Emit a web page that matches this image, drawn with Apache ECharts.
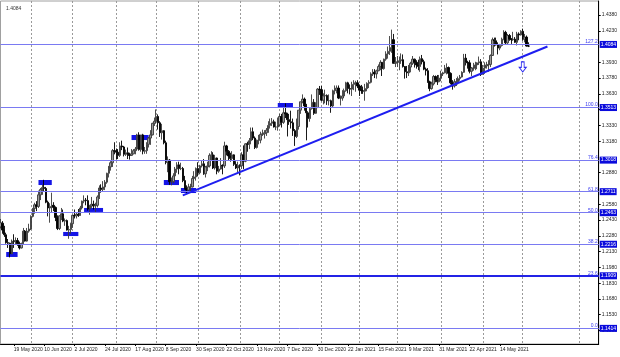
<!DOCTYPE html>
<html><head><meta charset="utf-8">
<script src="https://cdn.jsdelivr.net/npm/echarts@6/dist/echarts.min.js"></script>
<style>html,body{margin:0;padding:0;background:#fff}#c{width:620px;height:357px}</style>
</head><body><div id="c"></div>
<script>
// ---- data ----
const startDate = '2020-05-08';
const holidays = ['2020-12-25', '2021-01-01'];
const slotCount = 316;
// daily candles: [open, high, low, close]
const ohlc = [
[1.2365,1.2440,1.2350,1.2405],[1.2400,1.2420,1.2300,1.2335],[1.2335,1.2375,1.2270,1.2290],[1.2290,1.2310,1.2205,1.2215],[1.2215,1.2250,1.2165,1.2210],
[1.2210,1.2215,1.2075,1.2110],[1.2110,1.2245,1.2105,1.2230],[1.2230,1.2295,1.2165,1.2225],[1.2225,1.2265,1.2200,1.2235],[1.2235,1.2260,1.2185,1.2205],
[1.2205,1.2225,1.2150,1.2165],[1.2165,1.2215,1.2160,1.2205],[1.2205,1.2355,1.2200,1.2325],[1.2325,1.2335,1.2225,1.2230],[1.2230,1.2355,1.2225,1.2325],
[1.2325,1.2395,1.2310,1.2345],[1.2345,1.2475,1.2335,1.2465],[1.2465,1.2545,1.2455,1.2540],[1.2540,1.2595,1.2490,1.2575],[1.2575,1.2610,1.2515,1.2560],
[1.2560,1.2710,1.2545,1.2670],[1.2670,1.2735,1.2620,1.2720],[1.2720,1.2765,1.2670,1.2740],[1.2740,1.2813,1.2705,1.2730],[1.2730,1.2745,1.2590,1.2600],
[1.2600,1.2615,1.2465,1.2545],[1.2545,1.2590,1.2405,1.2560],[1.2560,1.2690,1.2500,1.2570],[1.2570,1.2600,1.2515,1.2550],[1.2550,1.2560,1.2420,1.2455],
[1.2455,1.2475,1.2335,1.2350],[1.2350,1.2475,1.2335,1.2470],[1.2470,1.2545,1.2430,1.2490],[1.2490,1.2530,1.2410,1.2420],[1.2420,1.2445,1.2375,1.2425],
[1.2425,1.2435,1.2330,1.2335],[1.2335,1.2375,1.2252,1.2340],[1.2340,1.2405,1.2300,1.2395],[1.2395,1.2480,1.2355,1.2475],[1.2475,1.2530,1.2445,1.2470],
[1.2470,1.2500,1.2445,1.2485],[1.2485,1.2535,1.2460,1.2475],[1.2475,1.2565,1.2470,1.2545],[1.2545,1.2615,1.2530,1.2610],[1.2610,1.2665,1.2590,1.2620],
[1.2620,1.2640,1.2570,1.2615],[1.2615,1.2665,1.2520,1.2535],[1.2535,1.2575,1.2480,1.2565],[1.2565,1.2650,1.2545,1.2580],[1.2580,1.2615,1.2530,1.2565],
[1.2565,1.2595,1.2500,1.2570],[1.2570,1.2665,1.2550,1.2650],[1.2650,1.2760,1.2630,1.2735],[1.2735,1.2770,1.2690,1.2720],[1.2720,1.2800,1.2700,1.2745],
[1.2745,1.2810,1.2715,1.2790],[1.2790,1.2880,1.2775,1.2875],[1.2875,1.2945,1.2835,1.2935],[1.2935,1.2990,1.2900,1.2975],[1.2975,1.3105,1.2935,1.3090],
[1.3090,1.3170,1.3055,1.3085],[1.3085,1.3110,1.3005,1.3075],[1.3075,1.3105,1.3010,1.3045],[1.3045,1.3170,1.3030,1.3135],[1.3135,1.3185,1.3095,1.3125],
[1.3125,1.3135,1.3035,1.3055],[1.3055,1.3100,1.3040,1.3070],[1.3070,1.3120,1.3010,1.3050],[1.3050,1.3070,1.3005,1.3045],[1.3045,1.3105,1.3040,1.3060],
[1.3060,1.3105,1.3055,1.3090],[1.3090,1.3125,1.3055,1.3105],[1.3105,1.3250,1.3095,1.3240],[1.3240,1.3265,1.3090,1.3100],[1.3100,1.3240,1.3080,1.3240],
[1.3240,1.3250,1.3055,1.3085],[1.3085,1.3125,1.3060,1.3090],[1.3090,1.3170,1.3060,1.3150],[1.3150,1.3220,1.3120,1.3210],[1.3210,1.3285,1.3145,1.3240],
[1.3240,1.3355,1.3235,1.3350],[1.3350,1.3405,1.3325,1.3370],[1.3370,1.3482,1.3350,1.3415],[1.3415,1.3435,1.3290,1.3355],[1.3355,1.3370,1.3220,1.3260],
[1.3260,1.3345,1.3195,1.3280],[1.3280,1.3285,1.3150,1.3165],[1.3165,1.3185,1.2960,1.2980],[1.2980,1.3035,1.2885,1.3000],[1.3000,1.3010,1.2765,1.2795],
[1.2795,1.2835,1.2760,1.2795],[1.2795,1.2875,1.2780,1.2850],[1.2850,1.2935,1.2805,1.2915],[1.2915,1.2980,1.2880,1.2955],[1.2955,1.2985,1.2865,1.2920],
[1.2920,1.2975,1.2905,1.2920],[1.2920,1.2935,1.2790,1.2805],[1.2805,1.2850,1.2720,1.2730],[1.2730,1.2760,1.2676,1.2715],[1.2715,1.2775,1.2690,1.2745],
[1.2745,1.2775,1.2690,1.2745],[1.2745,1.2850,1.2740,1.2825],[1.2825,1.2895,1.2775,1.2840],[1.2840,1.2930,1.2805,1.2920],[1.2920,1.2980,1.2845,1.2880],
[1.2880,1.2955,1.2865,1.2945],[1.2945,1.3000,1.2930,1.2965],[1.2965,1.3010,1.2860,1.2870],[1.2870,1.2945,1.2835,1.2935],[1.2935,1.2985,1.2895,1.2945],
[1.2945,1.3065,1.2930,1.3045],[1.3045,1.3085,1.2995,1.3050],[1.3050,1.3075,1.2915,1.2925],[1.2925,1.3050,1.2910,1.3020],[1.3020,1.3025,1.2865,1.2895],
[1.2895,1.2945,1.2880,1.2915],[1.2915,1.3020,1.2910,1.2950],[1.2950,1.2960,1.2865,1.2945],[1.2945,1.3175,1.2925,1.3135],[1.3135,1.3145,1.3045,1.3085],
[1.3085,1.3095,1.2995,1.3040],[1.3040,1.3070,1.2985,1.3015],[1.3015,1.3085,1.2995,1.3050],[1.3050,1.3055,1.2945,1.2960],[1.2960,1.2990,1.2915,1.2925],
[1.2925,1.2985,1.2880,1.2950],[1.2950,1.2960,1.2855,1.2945],[1.2945,1.3075,1.2915,1.3050],[1.3050,1.3140,1.2915,1.2990],[1.2990,1.3160,1.2980,1.3155],
[1.3155,1.3175,1.3080,1.3150],[1.3150,1.3210,1.3105,1.3185],[1.3185,1.3310,1.3150,1.3270],[1.3270,1.3310,1.3190,1.3210],[1.3210,1.3225,1.3105,1.3120],
[1.3120,1.3195,1.3110,1.3190],[1.3190,1.3240,1.3150,1.3190],[1.3190,1.3270,1.3160,1.3245],[1.3245,1.3290,1.3230,1.3250],[1.3250,1.3285,1.3205,1.3260],
[1.3260,1.3305,1.3230,1.3285],[1.3285,1.3370,1.3260,1.3330],[1.3330,1.3395,1.3300,1.3350],[1.3350,1.3400,1.3325,1.3365],[1.3365,1.3385,1.3310,1.3315],
[1.3315,1.3365,1.3285,1.3315],[1.3315,1.3405,1.3280,1.3335],[1.3335,1.3440,1.3325,1.3415],[1.3415,1.3440,1.3310,1.3360],[1.3360,1.3500,1.3345,1.3450],
[1.3450,1.3540,1.3400,1.3440],[1.3440,1.3450,1.3225,1.3385],[1.3385,1.3440,1.3335,1.3365],[1.3365,1.3470,1.3300,1.3355],[1.3355,1.3395,1.3230,1.3280],
[1.3280,1.3295,1.3135,1.3225],[1.3225,1.3395,1.3210,1.3320],[1.3320,1.3475,1.3290,1.3475],[1.3475,1.3555,1.3440,1.3555],[1.3555,1.3625,1.3540,1.3580],
[1.3580,1.3595,1.3470,1.3515],[1.3515,1.3535,1.3188,1.3450],[1.3450,1.3465,1.3310,1.3395],[1.3395,1.3500,1.3365,1.3490],[1.3490,1.3625,1.3480,1.3550],
[1.3550,1.3580,1.3430,1.3445],[1.3445,1.3550,1.3440,1.3500],[1.3500,1.3685,1.3495,1.3675],[1.3675,1.3705,1.3620,1.3670],[1.3670,1.3705,1.3560,1.3570],
[1.3570,1.3635,1.3530,1.3610],[1.3610,1.3670,1.3540,1.3615],[1.3615,1.3625,1.3525,1.3565],[1.3565,1.3625,1.3520,1.3565],[1.3565,1.3575,1.3450,1.3515],
[1.3515,1.3670,1.3505,1.3660],[1.3660,1.3710,1.3625,1.3665],[1.3665,1.3710,1.3635,1.3685],[1.3685,1.3710,1.3580,1.3590],[1.3590,1.3615,1.3520,1.3590],
[1.3590,1.3665,1.3565,1.3610],[1.3610,1.3680,1.3595,1.3660],[1.3660,1.3745,1.3650,1.3735],[1.3735,1.3745,1.3635,1.3680],[1.3680,1.3720,1.3625,1.3675],
[1.3675,1.3745,1.3610,1.3720],[1.3720,1.3760,1.3665,1.3730],[1.3730,1.3755,1.3650,1.3735],[1.3735,1.3760,1.3685,1.3705],[1.3705,1.3720,1.3610,1.3665],
[1.3665,1.3715,1.3630,1.3660],[1.3660,1.3700,1.3630,1.3655],[1.3655,1.3725,1.3565,1.3680],[1.3680,1.3740,1.3655,1.3730],[1.3730,1.3760,1.3685,1.3740],
[1.3740,1.3835,1.3730,1.3820],[1.3820,1.3865,1.3800,1.3835],[1.3835,1.3865,1.3780,1.3820],[1.3820,1.3860,1.3775,1.3850],[1.3850,1.3910,1.3845,1.3890],
[1.3890,1.3950,1.3855,1.3930],[1.3930,1.3930,1.3800,1.3870],[1.3870,1.3965,1.3860,1.3960],[1.3960,1.4035,1.3945,1.4010],[1.4010,1.4080,1.3965,1.4035],
[1.4035,1.4180,1.4000,1.4070],[1.4070,1.4241,1.4020,1.4145],[1.4145,1.4200,1.3920,1.3920],[1.3920,1.3980,1.3885,1.3930],[1.3930,1.3990,1.3885,1.3935],
[1.3935,1.3985,1.3855,1.3945],[1.3945,1.4015,1.3915,1.3955],[1.3955,1.4005,1.3880,1.3890],[1.3890,1.3895,1.3775,1.3840],[1.3840,1.3895,1.3780,1.3830],
[1.3830,1.3905,1.3800,1.3885],[1.3885,1.3935,1.3835,1.3920],[1.3920,1.3990,1.3905,1.3960],[1.3960,1.3965,1.3880,1.3930],[1.3930,1.3950,1.3870,1.3905],
[1.3905,1.3955,1.3855,1.3890],[1.3890,1.3985,1.3840,1.3965],[1.3965,1.4000,1.3910,1.3935],[1.3935,1.3955,1.3855,1.3865],[1.3865,1.3880,1.3805,1.3850],
[1.3850,1.3875,1.3735,1.3745],[1.3745,1.3755,1.3655,1.3680],[1.3680,1.3745,1.3670,1.3725],[1.3725,1.3810,1.3710,1.3795],[1.3795,1.3805,1.3740,1.3765],
[1.3765,1.3810,1.3715,1.3745],[1.3745,1.3810,1.3740,1.3780],[1.3780,1.3850,1.3750,1.3820],[1.3820,1.3840,1.3800,1.3830],[1.3830,1.3905,1.3825,1.3875],
[1.3875,1.3920,1.3815,1.3880],[1.3880,1.3890,1.3780,1.3825],[1.3825,1.3835,1.3720,1.3735],[1.3735,1.3760,1.3670,1.3705],[1.3705,1.3770,1.3690,1.3745],
[1.3745,1.3780,1.3705,1.3745],[1.3745,1.3795,1.3720,1.3775],[1.3775,1.3810,1.3755,1.3790],[1.3790,1.3845,1.3785,1.3835],[1.3835,1.4010,1.3830,1.3970],
[1.3970,1.4010,1.3900,1.3930],[1.3930,1.3945,1.3870,1.3925],[1.3925,1.3950,1.3825,1.3845],[1.3845,1.3885,1.3800,1.3875],[1.3875,1.3925,1.3850,1.3875],
[1.3875,1.3935,1.3855,1.3905],[1.3905,1.3930,1.3865,1.3925],[1.3925,1.3985,1.3905,1.3935],[1.3935,1.3960,1.3800,1.3815],[1.3815,1.3905,1.3815,1.3875],
[1.3875,1.3930,1.3820,1.3895],[1.3895,1.3935,1.3870,1.3905],[1.3905,1.3950,1.3840,1.3910],[1.3910,1.4005,1.3885,1.3995],[1.3995,1.4165,1.3990,1.4145],
[1.4145,1.4165,1.4080,1.4135],[1.4135,1.4165,1.4090,1.4095],[1.4095,1.4120,1.4005,1.4065],[1.4065,1.4105,1.4045,1.4090],[1.4090,1.4165,1.4080,1.4150],
[1.4150,1.4235,1.4140,1.4215],[1.4215,1.4230,1.4100,1.4115],[1.4115,1.4200,1.4105,1.4185],[1.4185,1.4200,1.4135,1.4150],[1.4150,1.4160,1.4105,1.4145],
[1.4145,1.4220,1.4135,1.4150],[1.4150,1.4170,1.4115,1.4120],[1.4120,1.4220,1.4090,1.4200],[1.4200,1.4215,1.4140,1.4190],[1.4190,1.4235,1.4185,1.4225],
[1.4225,1.4250,1.4135,1.4150],[1.4150,1.4200,1.4120,1.4170],[1.4170,1.4185,1.4080,1.4085],[1.4085,1.4120,1.4075,1.4084]
];
const fibNames  = ['0.0', '23.6', '38.2', '50.0', '61.8', '76.4', '100.0', '127.2'];
const fibPrices = [1.1414, 1.1909, 1.2216, 1.2463, 1.2711, 1.3018, 1.3513, 1.4084];
const yTickValues = [1.4380, 1.4230, 1.3930, 1.3780, 1.3630, 1.3480, 1.3330, 1.3180, 1.2880, 1.2580,
                     1.2430, 1.2280, 1.2130, 1.1980, 1.1830, 1.1680, 1.1530, 1.1380];
const dateLabelIdx = [7, 23, 39, 55, 71, 87, 103, 119, 135, 151, 167, 183, 199, 215, 231, 247, 263];
const monthGridIdx = [16, 38, 61, 82, 104, 126, 147, 169, 189, 209, 232, 254, 275, 305];
const trendLine = [[96, 1.2665], [288, 1.4080]];
// marker rectangles: [fromIndex, toIndex, topPrice, bottomPrice]
const markerBoxes = [
  [3, 9, 1.2126, 1.2079], [20, 27, 1.2811, 1.2763], [33, 41, 1.2317, 1.2278], [44, 54, 1.2545, 1.2507],
  [69, 78, 1.3239, 1.3191], [86, 94, 1.2811, 1.2763], [95, 103, 1.2735, 1.2687], [146, 154, 1.3543, 1.3496]
];
const arrowPoint = [275, 1.3886];
const headerText = '1.4084';

// ---- build ----
function tradingDays(start, count, skip) {
  const out = []; const d = new Date(start + 'T00:00:00Z');
  while (out.length < count) {
    const dow = d.getUTCDay(); const iso = d.toISOString().slice(0, 10);
    if (dow !== 0 && dow !== 6 && skip.indexOf(iso) < 0) out.push(iso);
    d.setUTCDate(d.getUTCDate() + 1);
  }
  return out;
}
const categories = tradingDays(startDate, slotCount, holidays);
const MON = ['Jan','Feb','Mar','Apr','May','Jun','Jul','Aug','Sep','Oct','Nov','Dec'];
function fmtDate(s) { const p = s.split('-'); return (+p[2]) + ' ' + MON[+p[1] - 1] + ' ' + p[0]; }
const candleData = ohlc.map(r => [r[0], r[3], r[2], r[1]]);

const BLUE = '#1e1ef0';
const FONT = 'Liberation Sans';
const fibLineData = [];
fibPrices.forEach((p, k) => {
  const isThick = fibNames[k] === '23.6';
  fibLineData.push({
    yAxis: p,
    lineStyle: { color: isThick ? '#2323e6' : '#7a7af2', width: isThick ? 2 : 1, type: 'solid' },
    label: { show: true, position: 'insideEndTop', formatter: fibNames[k], color: '#3a3af0', fontSize: 5,
             fontFamily: FONT, distance: [1, 0] }
  });
  fibLineData.push({
    yAxis: p,
    lineStyle: { color: 'rgba(0,0,0,0)', width: 1 },
    label: { show: true, position: 'end', formatter: p.toFixed(4), color: '#ffffff', fontSize: 5,
             fontFamily: FONT, backgroundColor: '#0a0adc', padding: [1, 1, 1, 1], distance: 1 }
  });
});

const chart = echarts.init(document.getElementById('c'), null, { renderer: 'canvas' });
chart.setOption({
  animation: false,
  backgroundColor: '#ffffff',
  title: { text: headerText, left: 1, top: 1, textStyle: { fontSize: 5, fontWeight: 'normal', color: '#333', fontFamily: FONT } },
  grid: { left: 0.5, right: 20, top: 1, bottom: 13, show: true, borderColor: '#a0a0a0', borderWidth: 1 },
  xAxis: {
    type: 'category', data: categories, boundaryGap: false,
    axisLine: { show: true, lineStyle: { color: '#000', width: 1 } },
    axisTick: { show: true, length: 2, interval: (i) => dateLabelIdx.indexOf(i) >= 0, lineStyle: { color: '#000' } },
    axisLabel: { show: true, interval: (i) => dateLabelIdx.indexOf(i) >= 0, formatter: fmtDate, align: 'left',
                 fontSize: 5, color: '#222', margin: 3, fontFamily: FONT, hideOverlap: false },
    splitLine: { show: true, interval: (i) => monthGridIdx.indexOf(i) >= 0, lineStyle: { color: '#9a9a9a', type: [2, 2], width: 1 } }
  },
  yAxis: {
    type: 'value', position: 'right', min: 1.12514, max: 1.45131, scale: true,
    axisLine: { show: true, lineStyle: { color: '#000', width: 1 } },
    axisTick: { show: true, length: 2, customValues: yTickValues, lineStyle: { color: '#000' } },
    axisLabel: { show: true, customValues: yTickValues, formatter: v => v.toFixed(4), fontSize: 5, color: '#222',
                 margin: 3, fontFamily: FONT },
    splitLine: { show: false }
  },
  series: [{
    type: 'candlestick', data: candleData, barWidth: 1.9,
    itemStyle: { color: '#9c9c9c', color0: '#000000', borderColor: '#3a3a3a', borderColor0: '#000000', borderWidth: 0.9 },
    markLine: { silent: true, symbol: 'none', animation: false, data: fibLineData.concat([
      [ { coord: trendLine[0], lineStyle: { color: BLUE, width: 2, type: 'solid' }, label: { show: false } },
        { coord: trendLine[1] } ]
    ]) },
    markArea: { silent: true, itemStyle: { color: '#1414e6' },
      data: markerBoxes.map(b => [{ coord: [b[0], b[2]] }, { coord: [b[1], b[3]] }]) },
    markPoint: { silent: true, data: [{ coord: arrowPoint, symbol: 'path://M3,0 L7,0 L7,6 L10,6 L5,11 L0,6 L3,6 Z',
      symbolSize: [7, 10], itemStyle: { color: '#ffffff', borderColor: '#3030f0', borderWidth: 1 }, label: { show: false } }] }
  }]
});
</script></body></html>
